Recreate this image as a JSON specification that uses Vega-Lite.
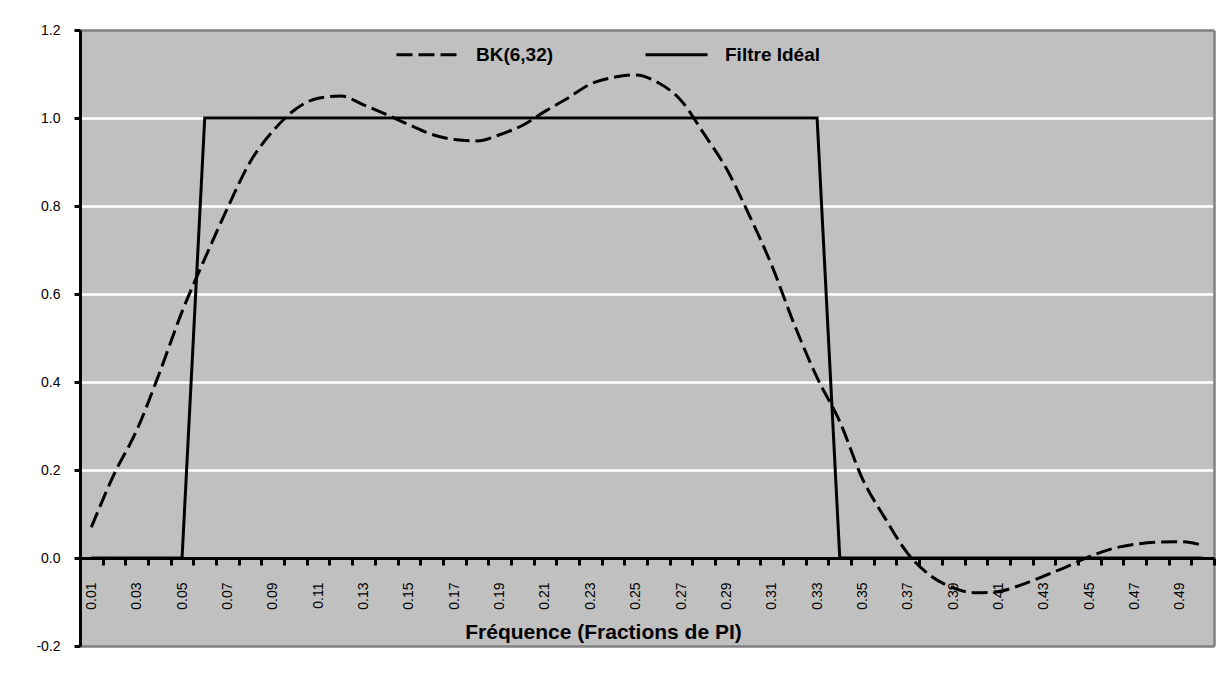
{
  "$schema": "https://vega.github.io/schema/vega-lite/v6.json",
  "autosize": {"type": "none"},
  "width": 1134,
  "height": 616,
  "padding": {"left": 80, "top": 30, "right": 15, "bottom": 37},
  "background": "white",
  "config": {
    "view": {"fill": "#C0C0C0", "stroke": null},
    "font": "Liberation Sans"
  },
  "data": {
    "values": [
      {"f": "0.01", "s": "BK(6,32)", "v": 0.07},
      {"f": "0.02", "s": "BK(6,32)", "v": 0.19},
      {"f": "0.03", "s": "BK(6,32)", "v": 0.29},
      {"f": "0.04", "s": "BK(6,32)", "v": 0.42},
      {"f": "0.05", "s": "BK(6,32)", "v": 0.56},
      {"f": "0.06", "s": "BK(6,32)", "v": 0.68},
      {"f": "0.07", "s": "BK(6,32)", "v": 0.795},
      {"f": "0.08", "s": "BK(6,32)", "v": 0.9},
      {"f": "0.09", "s": "BK(6,32)", "v": 0.97},
      {"f": "0.10", "s": "BK(6,32)", "v": 1.02},
      {"f": "0.11", "s": "BK(6,32)", "v": 1.045},
      {"f": "0.12", "s": "BK(6,32)", "v": 1.05},
      {"f": "0.13", "s": "BK(6,32)", "v": 1.03},
      {"f": "0.14", "s": "BK(6,32)", "v": 1.008},
      {"f": "0.15", "s": "BK(6,32)", "v": 0.985},
      {"f": "0.16", "s": "BK(6,32)", "v": 0.963},
      {"f": "0.17", "s": "BK(6,32)", "v": 0.951},
      {"f": "0.18", "s": "BK(6,32)", "v": 0.948},
      {"f": "0.19", "s": "BK(6,32)", "v": 0.962},
      {"f": "0.20", "s": "BK(6,32)", "v": 0.983},
      {"f": "0.21", "s": "BK(6,32)", "v": 1.015},
      {"f": "0.22", "s": "BK(6,32)", "v": 1.045},
      {"f": "0.23", "s": "BK(6,32)", "v": 1.077},
      {"f": "0.24", "s": "BK(6,32)", "v": 1.092},
      {"f": "0.25", "s": "BK(6,32)", "v": 1.098},
      {"f": "0.26", "s": "BK(6,32)", "v": 1.08},
      {"f": "0.27", "s": "BK(6,32)", "v": 1.04},
      {"f": "0.28", "s": "BK(6,32)", "v": 0.965},
      {"f": "0.29", "s": "BK(6,32)", "v": 0.885},
      {"f": "0.30", "s": "BK(6,32)", "v": 0.78},
      {"f": "0.31", "s": "BK(6,32)", "v": 0.665},
      {"f": "0.32", "s": "BK(6,32)", "v": 0.53},
      {"f": "0.33", "s": "BK(6,32)", "v": 0.41},
      {"f": "0.34", "s": "BK(6,32)", "v": 0.31},
      {"f": "0.35", "s": "BK(6,32)", "v": 0.18},
      {"f": "0.36", "s": "BK(6,32)", "v": 0.09},
      {"f": "0.37", "s": "BK(6,32)", "v": 0.01},
      {"f": "0.38", "s": "BK(6,32)", "v": -0.04},
      {"f": "0.39", "s": "BK(6,32)", "v": -0.068},
      {"f": "0.40", "s": "BK(6,32)", "v": -0.079},
      {"f": "0.41", "s": "BK(6,32)", "v": -0.076},
      {"f": "0.42", "s": "BK(6,32)", "v": -0.061},
      {"f": "0.43", "s": "BK(6,32)", "v": -0.041},
      {"f": "0.44", "s": "BK(6,32)", "v": -0.02},
      {"f": "0.45", "s": "BK(6,32)", "v": 0.003},
      {"f": "0.46", "s": "BK(6,32)", "v": 0.021},
      {"f": "0.47", "s": "BK(6,32)", "v": 0.031},
      {"f": "0.48", "s": "BK(6,32)", "v": 0.036},
      {"f": "0.49", "s": "BK(6,32)", "v": 0.037},
      {"f": "0.50", "s": "BK(6,32)", "v": 0.029},
      {"f": "0.01", "s": "Filtre Idéal", "v": 0},
      {"f": "0.02", "s": "Filtre Idéal", "v": 0},
      {"f": "0.03", "s": "Filtre Idéal", "v": 0},
      {"f": "0.04", "s": "Filtre Idéal", "v": 0},
      {"f": "0.05", "s": "Filtre Idéal", "v": 0},
      {"f": "0.06", "s": "Filtre Idéal", "v": 1},
      {"f": "0.07", "s": "Filtre Idéal", "v": 1},
      {"f": "0.08", "s": "Filtre Idéal", "v": 1},
      {"f": "0.09", "s": "Filtre Idéal", "v": 1},
      {"f": "0.10", "s": "Filtre Idéal", "v": 1},
      {"f": "0.11", "s": "Filtre Idéal", "v": 1},
      {"f": "0.12", "s": "Filtre Idéal", "v": 1},
      {"f": "0.13", "s": "Filtre Idéal", "v": 1},
      {"f": "0.14", "s": "Filtre Idéal", "v": 1},
      {"f": "0.15", "s": "Filtre Idéal", "v": 1},
      {"f": "0.16", "s": "Filtre Idéal", "v": 1},
      {"f": "0.17", "s": "Filtre Idéal", "v": 1},
      {"f": "0.18", "s": "Filtre Idéal", "v": 1},
      {"f": "0.19", "s": "Filtre Idéal", "v": 1},
      {"f": "0.20", "s": "Filtre Idéal", "v": 1},
      {"f": "0.21", "s": "Filtre Idéal", "v": 1},
      {"f": "0.22", "s": "Filtre Idéal", "v": 1},
      {"f": "0.23", "s": "Filtre Idéal", "v": 1},
      {"f": "0.24", "s": "Filtre Idéal", "v": 1},
      {"f": "0.25", "s": "Filtre Idéal", "v": 1},
      {"f": "0.26", "s": "Filtre Idéal", "v": 1},
      {"f": "0.27", "s": "Filtre Idéal", "v": 1},
      {"f": "0.28", "s": "Filtre Idéal", "v": 1},
      {"f": "0.29", "s": "Filtre Idéal", "v": 1},
      {"f": "0.30", "s": "Filtre Idéal", "v": 1},
      {"f": "0.31", "s": "Filtre Idéal", "v": 1},
      {"f": "0.32", "s": "Filtre Idéal", "v": 1},
      {"f": "0.33", "s": "Filtre Idéal", "v": 1},
      {"f": "0.34", "s": "Filtre Idéal", "v": 0},
      {"f": "0.35", "s": "Filtre Idéal", "v": 0},
      {"f": "0.36", "s": "Filtre Idéal", "v": 0},
      {"f": "0.37", "s": "Filtre Idéal", "v": 0},
      {"f": "0.38", "s": "Filtre Idéal", "v": 0},
      {"f": "0.39", "s": "Filtre Idéal", "v": 0},
      {"f": "0.40", "s": "Filtre Idéal", "v": 0},
      {"f": "0.41", "s": "Filtre Idéal", "v": 0},
      {"f": "0.42", "s": "Filtre Idéal", "v": 0},
      {"f": "0.43", "s": "Filtre Idéal", "v": 0},
      {"f": "0.44", "s": "Filtre Idéal", "v": 0},
      {"f": "0.45", "s": "Filtre Idéal", "v": 0},
      {"f": "0.46", "s": "Filtre Idéal", "v": 0},
      {"f": "0.47", "s": "Filtre Idéal", "v": 0},
      {"f": "0.48", "s": "Filtre Idéal", "v": 0},
      {"f": "0.49", "s": "Filtre Idéal", "v": 0},
      {"f": "0.50", "s": "Filtre Idéal", "v": 0}
    ]
  },
  "encoding": {
    "x": {
      "field": "f",
      "type": "ordinal",
      "scale": {"type": "band", "paddingInner": 0, "paddingOuter": 0},
      "axis": {
        "title": "Fréquence (Fractions de PI)",
        "titleFont": "Liberation Sans",
        "titleFontSize": 21,
        "titleFontWeight": "bold",
        "titleColor": "black",
        "titleAlign": "center",
        "titleBaseline": "alphabetic",
        "titleX": 523,
        "titleY": 80,
        "offset": -88,
        "zindex": 1,
        "domain": true,
        "domainColor": "black",
        "domainWidth": 3,
        "tickBand": "extent",
        "ticks": true,
        "tickColor": "black",
        "tickOpacity": 1,
        "tickWidth": 3,
        "tickSize": 7,
        "labelAngle": 270,
        "labelFontSize": 14,
        "labelColor": "black",
        "labelPadding": 17,
        "labelOverlap": false,
        "labelExpr": "round(toNumber(datum.value) * 100) % 2 == 1 ? datum.label : ''",
        "grid": false
      }
    },
    "strokeDash": {
      "field": "s",
      "type": "nominal",
      "scale": {"domain": ["BK(6,32)", "Filtre Idéal"], "range": [[16, 6], [1, 0]]},
      "legend": {
        "title": null,
        "orient": "none",
        "direction": "horizontal",
        "legendX": 315,
        "legendY": -8,
        "padding": 0,
        "symbolType": "stroke",
        "symbolSize": 3844,
        "symbolStrokeWidth": 3,
        "symbolStrokeColor": "black",
        "labelFont": "Liberation Sans",
        "labelFontSize": 19,
        "labelFontWeight": "bold",
        "labelColor": "black",
        "labelOffset": 16,
        "columnPadding": 85
      }
    }
  },
  "layer": [
    {
      "transform": [{"filter": "datum.s == 'BK(6,32)'"}],
      "mark": {"type": "line", "color": "black", "strokeWidth": 3, "interpolate": "monotone", "clip": true},
      "encoding": {
        "y": {
          "field": "v",
          "type": "quantitative",
          "scale": {"domain": [-0.2, 1.2], "nice": false, "zero": false},
          "axis": {
            "title": null,
            "values": [-0.2, 0, 0.2, 0.4, 0.6, 0.8, 1.0, 1.2],
            "format": ".1f",
            "labelExpr": "replace(datum.label, '\u2212', '-')",
            "labelFontSize": 14,
            "labelColor": "black",
            "labelPadding": 14,
            "zindex": 0,
            "domainColor": "black",
            "domainWidth": 3,
            "tickColor": "black",
            "tickWidth": 3,
            "tickSize": 6,
            "grid": true,
            "gridWidth": 2.5,
            "gridColor": {"condition": {"test": "datum.value < -0.1 || datum.value > 1.1", "value": "#808080"}, "value": "white"},
            "gridOpacity": {"condition": {"test": "abs(datum.value) < 0.01", "value": 0}, "value": 1}
          }
        }
      }
    },
    {
      "transform": [{"filter": "datum.s == 'Filtre Idéal'"}],
      "mark": {"type": "line", "color": "black", "strokeWidth": 3, "interpolate": "linear", "clip": true},
      "encoding": {
        "y": {
          "field": "v",
          "type": "quantitative",
          "scale": {"domain": [-0.2, 1.2], "nice": false, "zero": false},
          "axis": {
            "orient": "right",
            "title": null,
            "labels": false,
            "ticks": false,
            "grid": false,
            "domainColor": "#808080",
            "domainWidth": 2.5
          }
        }
      }
    }
  ],
  "resolve": {"axis": {"y": "independent"}}
}
